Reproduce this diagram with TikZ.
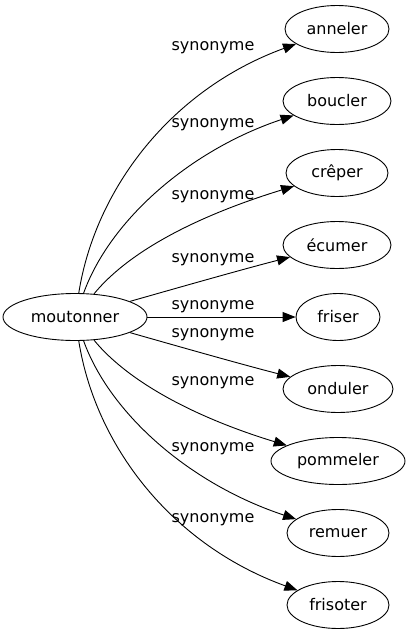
\documentclass[tikz,border=0pt]{standalone}
\usepackage{fontspec}
\setmainfont{DejaVu Sans}
\usetikzlibrary{shapes.geometric,arrows.meta}
\begin{document}
\begin{tikzpicture}[x=1pt,y=-1pt,
  word/.style={draw,ellipse,inner sep=0pt,minimum height=47pt,line width=0.9pt,font=\fontsize{16}{19}\selectfont},
  rel/.style={font=\fontsize{16}{19}\selectfont,inner sep=0pt},
  edge/.style={line width=0.9pt,-{Triangle[length=13pt,width=10pt]}}]
\useasboundingbox (0,0) rectangle (410,635);
\node[word,minimum width=144pt] (m) at (75,317) {moutonner};
\node[word,minimum width=104pt] (a) at (337,29) {anneler};
\node[word,minimum width=108pt] (b) at (337,101) {boucler};
\node[word,minimum width=102pt] (c) at (337,173) {crêper};
\node[word,minimum width=108pt] (e) at (337,245) {écumer};
\node[word,minimum width=84pt] (f) at (338,317) {friser};
\node[word,minimum width=110pt] (o) at (338,389) {onduler};
\node[word,minimum width=134pt] (p) at (338,461) {pommeler};
\node[word,minimum width=102pt] (r) at (338,533) {remuer};
\node[word,minimum width=102pt] (s) at (338,605) {frisoter};
\draw[edge] (m) .. controls (95,190) and (170,90) .. (a);
\draw[edge] (m) .. controls (110,220) and (190,150) .. (b);
\draw[edge] (m) .. controls (130,250) and (200,215) .. (c);
\draw[edge] (m) .. controls (170,290) and (240,270) .. (e);
\draw[edge] (m) -- (f);
\draw[edge] (m) .. controls (170,344) and (240,364) .. (o);
\draw[edge] (m) .. controls (130,384) and (200,419) .. (p);
\draw[edge] (m) .. controls (110,414) and (190,484) .. (r);
\draw[edge] (m) .. controls (95,444) and (170,544) .. (s);
\node[rel] (la) at (213,48) {synonyme};
\node[rel] (lb) at (213,125) {synonyme};
\node[rel] (lc) at (213,197) {synonyme};
\node[rel] (le) at (213,260) {synonyme};
\node[rel] (lf) at (213,307) {synonyme};
\node[rel] (lo) at (213,335) {synonyme};
\node[rel] (lp) at (213,383) {synonyme};
\node[rel] (lr) at (213,449) {synonyme};
\node[rel] (ls) at (213,520) {synonyme};
\end{tikzpicture}
\end{document}
